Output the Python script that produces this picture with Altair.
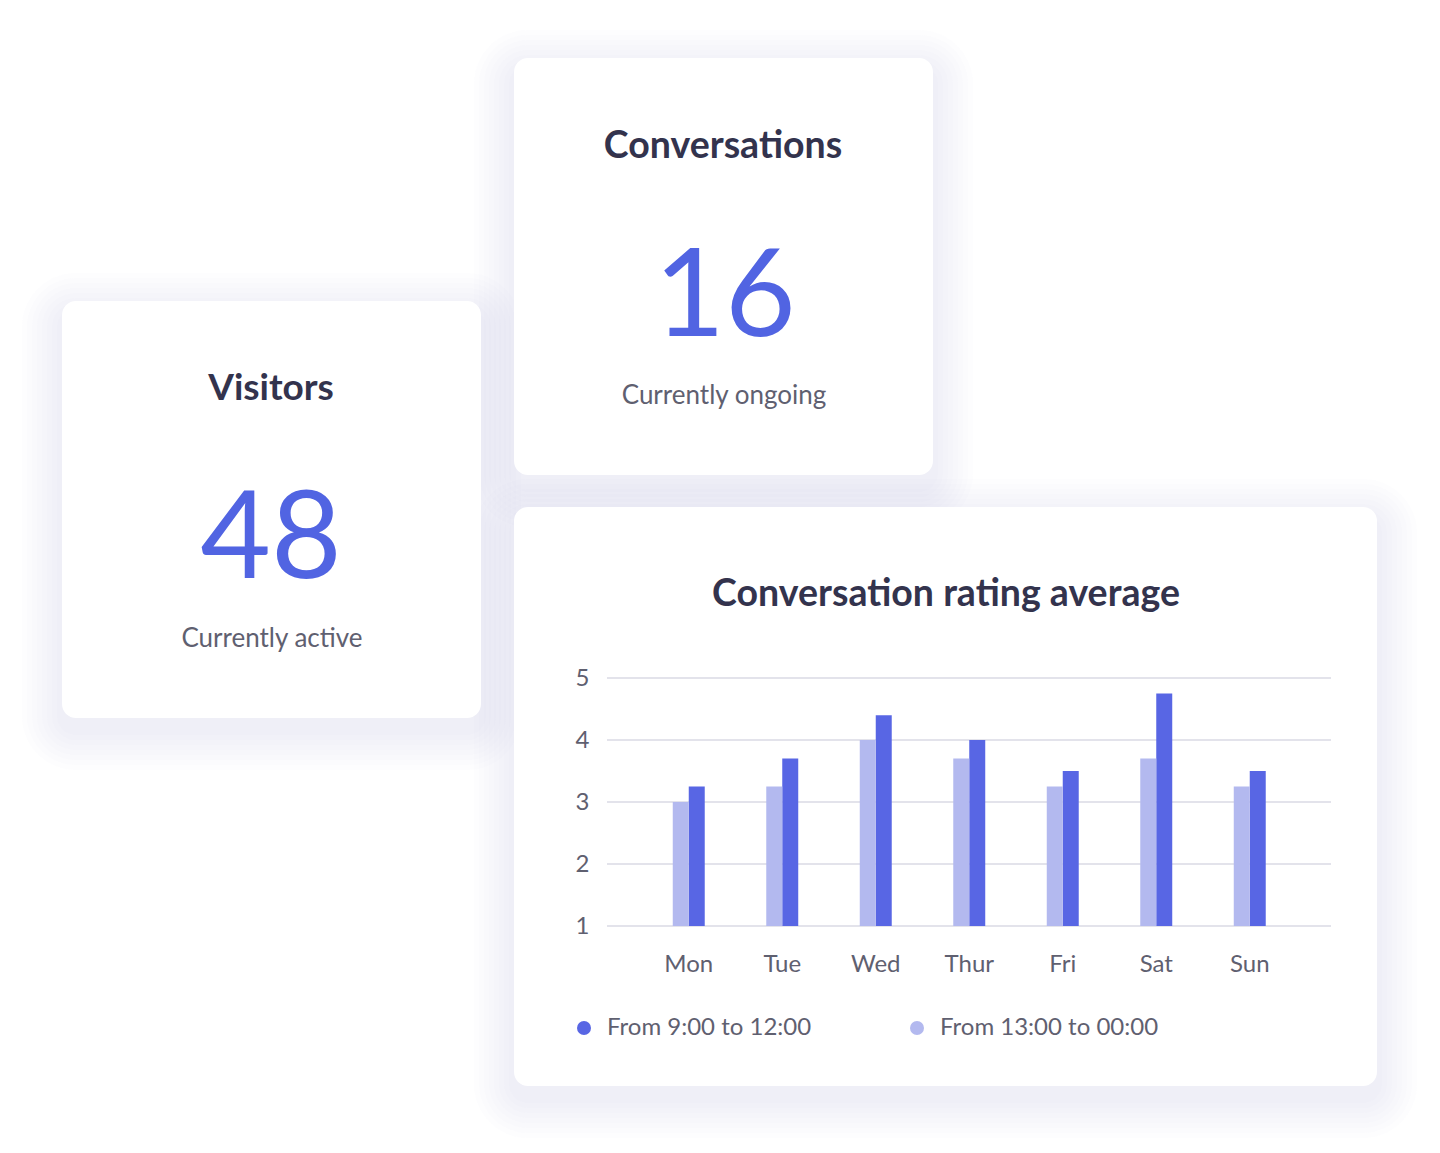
import altair as alt
import pandas as pd

# ---------------- data ----------------
days = ["Mon", "Tue", "Wed", "Thur", "Fri", "Sat", "Sun"]
morning = [3.25, 3.7, 4.4, 4.0, 3.5, 4.75, 3.5]      # From 9:00 to 12:00
afternoon = [3.0, 3.25, 4.0, 3.7, 3.25, 3.7, 3.25]   # From 13:00 to 00:00
series_names = ["From 9:00 to 12:00", "From 13:00 to 00:00"]
series_colors = ["#5866e4", "#b3b9ef"]
y_ticks = [1, 2, 3, 4, 5]

kpi_titles = ["Visitors", "Conversations"]
kpi_values = ["48", "16"]
kpi_captions = ["Currently active", "Currently ongoing"]
chart_title = "Conversation rating average"

# ---------------- style ----------------
W, H = 1440, 1153
FONT = "Lato"
DARK = "#33334d"
GRAY = "#5f6070"
BLUE = "#5164e2"
GRID = "#e3e3eb"

rows = []
for d, m, a in zip(days, morning, afternoon):
    rows.append({"day": d, "series": series_names[0], "value": m})
    rows.append({"day": d, "series": series_names[1], "value": a})
bars_df = pd.DataFrame(rows)
grid_df = pd.DataFrame({"tick": y_ticks})
one = pd.DataFrame({"k": [0]})

# card boxes (x0, x1, y0, y1)
cards = [(62, 481, 301, 718), (514, 933, 58, 475), (514, 1377, 507, 1086)]

layers = []
# soft shadows
for (x0, x1, y0, y1) in cards:
    for i in range(1, 9):
        e = i * 5
        layers.append(
            alt.Chart(one).mark_rect(color="#c8cad8", opacity=0.035, cornerRadius=14 + e).encode(
                x=alt.value(x0 - e), x2=alt.value(x1 + e),
                y=alt.value(y0 - e + 12), y2=alt.value(y1 + e + 12)))
# white cards
for (x0, x1, y0, y1) in cards:
    layers.append(
        alt.Chart(one).mark_rect(color="white", cornerRadius=14).encode(
            x=alt.value(x0), x2=alt.value(x1), y=alt.value(y0), y2=alt.value(y1)))


def text(s, x, y, size, color, weight="normal"):
    return alt.Chart(one).mark_text(
        text=s, fontSize=size, font=FONT, color=color, fontWeight=weight,
        align="center", baseline="alphabetic").encode(x=alt.value(x), y=alt.value(y))


# KPI cards
layers.append(text(kpi_titles[0], 271, 400, 37, DARK, "bold"))
layers.append(text(kpi_values[0], 271, 578, 122, BLUE))
layers.append(text(kpi_captions[0], 272, 647, 26, GRAY))
layers.append(text(kpi_titles[1], 723, 158, 37.5, DARK, "bold"))
layers.append(text(kpi_values[1], 725, 336, 122, BLUE))
layers.append(text(kpi_captions[1], 724, 404, 26, GRAY))
layers.append(text(chart_title, 946, 606, 37.5, DARK, "bold"))

yscale = alt.Scale(domain=[1, 5], range=[926, 678], zero=False, nice=False)
yaxis = alt.Axis(title=None, orient="left", offset=-592, domain=False, ticks=False,
                 tickSize=0, labelPadding=3, values=y_ticks, grid=False, zindex=5,
                 labelFontSize=24, labelColor=GRAY, labelFont=FONT)

grid = alt.Chart(grid_df).mark_rule(color=GRID, strokeWidth=2).encode(
    y=alt.Y("tick:Q", scale=yscale, axis=yaxis),
    x=alt.value(607), x2=alt.value(1331))
layers.append(grid)

bars = alt.Chart(bars_df).mark_bar().encode(
    x=alt.X("day:N", sort=days,
            scale=alt.Scale(range=[642, 1296.5], paddingInner=0.658, paddingOuter=0.329),
            axis=alt.Axis(title=None, orient="bottom", offset=-182, domain=False, ticks=False,
                          tickSize=0, labelPadding=0, labelBaseline="alphabetic", labelAngle=0,
                          zindex=5, labelFontSize=24, labelColor=GRAY, labelFont=FONT)),
    xOffset=alt.XOffset("series:N", sort=[series_names[1], series_names[0]],
                        scale=alt.Scale(paddingInner=0, paddingOuter=0)),
    y=alt.Y("value:Q", scale=yscale, axis=yaxis),
    y2=alt.datum(1),
    color=alt.Color("series:N", scale=alt.Scale(domain=series_names, range=series_colors),
                    legend=alt.Legend(title=None, orient="none", legendX=572, legendY=1016,
                                      direction="horizontal", symbolType="circle", symbolSize=196,
                                      symbolStrokeWidth=0, symbolOpacity=1, labelFontSize=24,
                                      labelColor=GRAY, labelFont=FONT, labelOffset=11,
                                      labelLimit=400, columnPadding=93, padding=0, zindex=5)),
)
layers.append(bars)

chart = alt.layer(*layers).properties(
    width=W, height=H, padding=0,
    autosize=alt.AutoSizeParams(type="none"),
    background="white",
).configure_view(strokeWidth=0)

chart.save("out.html", embed_options={"renderer": "svg", "actions": False})
